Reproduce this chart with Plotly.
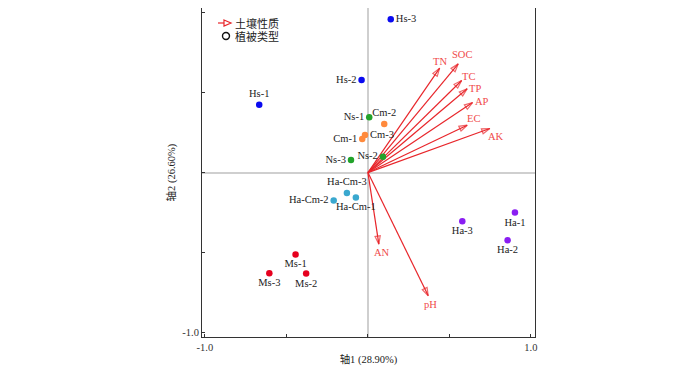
import plotly.graph_objects as go

# ---------------- data ----------------
site_names = ["Hs-1", "Hs-2", "Hs-3", "Ns-1", "Ns-2", "Ns-3", "Cm-1", "Cm-2", "Cm-3",
              "Ha-Cm-1", "Ha-Cm-2", "Ha-Cm-3", "Ha-1", "Ha-2", "Ha-3", "Ms-1", "Ms-2", "Ms-3"]
site_axis1 = [-0.667, -0.039, 0.140, 0.008, 0.092, -0.104, -0.035, 0.100, -0.018,
              -0.074, -0.210, -0.129, 0.902, 0.857, 0.579, -0.444, -0.379, -0.605]
site_axis2 = [0.424, 0.578, 0.957, 0.346, 0.099, 0.079, 0.209, 0.304, 0.234,
              -0.155, -0.174, -0.128, -0.250, -0.422, -0.304, -0.511, -0.631, -0.629]
site_groups = ["Hs", "Hs", "Hs", "Ns", "Ns", "Ns", "Cm", "Cm", "Cm",
               "Ha-Cm", "Ha-Cm", "Ha-Cm", "Ha", "Ha", "Ha", "Ms", "Ms", "Ms"]

soil_names = ["TN", "SOC", "TC", "TP", "AP", "EC", "AK", "AN", "pH"]
soil_axis1 = [0.440, 0.554, 0.575, 0.609, 0.642, 0.609, 0.748, 0.067, 0.370]
soil_axis2 = [0.652, 0.679, 0.575, 0.524, 0.437, 0.296, 0.275, -0.447, -0.770]

x_tick_vals = [-1.0, -0.5, 0.0, 0.5, 1.0]
x_tick_text = ["-1.0", "", "", "", "1.0"]
y_tick_vals = [-1.0, -0.5, 0.0, 0.5, 1.0]
y_tick_text = ["-1.0", "", "", "", "1.0"]

x_title = "轴1 (28.90%)"
y_title = "轴2 (26.60%)"
legend_labels = ["土壤性质", "植被类型"]

# ---------------- styles ----------------
group_colors = {"Hs": "#0a0af0", "Ns": "#22a32a", "Cm": "#ff8a3c",
                "Ha-Cm": "#3aa8cf", "Ha": "#8a1ef2", "Ms": "#e6001e"}
site_textpos = ["top center", "middle left", "middle right", "middle left", "middle left",
                "middle left", "middle left", "top center", "middle right",
                "bottom center", "middle left", "top center", "bottom center",
                "bottom center", "bottom center", "bottom center", "bottom center",
                "bottom center"]
soil_label_shift = [(0, 7), (4, 9), (7, 4), (8, 0), (9, 1), (6, 7), (6, -8), (3, -8), (2, -9)]

ARROW = "#e8262b"
ARROW_TEXT = "#f04a4a"
FONT = "Liberation Serif, Times New Roman, Noto Sans CJK SC, serif"

# the page body adds an 8px offset; size the figure so the plot frame lands where the
# reference has it inside the 700x370 window
OFF = 8
W, H = 700 - OFF, 370 - OFF
L, R, T, B = 202 - OFF, 165, 0, 33

fig = go.Figure()

# soil property arrows
for nm, ax1, ax2 in zip(soil_names, soil_axis1, soil_axis2):
    fig.add_trace(go.Scatter(
        x=[0, ax1], y=[0, ax2], mode="lines+markers",
        line=dict(color=ARROW, width=1.2),
        marker=dict(symbol="arrow-open", size=[0, 8.5], angleref="previous",
                    color=ARROW, line=dict(color=ARROW, width=1.2)),
        hoverinfo="skip", showlegend=False))

for (nm, ax1, ax2), (dx, dy) in zip(zip(soil_names, soil_axis1, soil_axis2), soil_label_shift):
    fig.add_annotation(x=ax1, y=ax2, text=nm, showarrow=False,
                       xshift=dx, yshift=dy, xanchor="center", yanchor="middle",
                       font=dict(family=FONT, size=10.5, color=ARROW_TEXT))

# sample points
fig.add_trace(go.Scatter(
    x=site_axis1, y=site_axis2, mode="markers+text", text=site_names,
    textposition=site_textpos,
    textfont=dict(family=FONT, size=10.5, color="#222222"),
    marker=dict(size=6.5, color=[group_colors[g] for g in site_groups]),
    hoverinfo="text", showlegend=False))

# ---------------- legend (drawn) ----------------
# positions given in window pixels of the reference
def px_x(p):
    return (p - OFF - L) / (W - L - R)

def px_y(p):
    return (H - B - (p - OFF)) / (H - T - B)

shapes = [
    dict(type="line", xref="paper", yref="paper", x0=px_x(218), x1=px_x(224),
         y0=px_y(23), y1=px_y(23), line=dict(color=ARROW, width=1.2)),
    dict(type="path", xref="paper", yref="paper",
         path="M {} {} L {} {} L {} {} Z".format(px_x(224), px_y(20), px_x(231), px_y(23),
                                                 px_x(224), px_y(26)),
         line=dict(color=ARROW, width=1.2), fillcolor="white"),
    dict(type="circle", xref="paper", yref="paper", x0=px_x(222.5), x1=px_x(229.5),
         y0=px_y(32.5), y1=px_y(39.5), line=dict(color="#111111", width=1.4)),
]
fig.add_annotation(xref="paper", yref="paper", x=px_x(233), y=px_y(23), text=legend_labels[0],
                   showarrow=False, xanchor="left", yanchor="middle",
                   font=dict(family=FONT, size=11, color="#222222"))
fig.add_annotation(xref="paper", yref="paper", x=px_x(233), y=px_y(36), text=legend_labels[1],
                   showarrow=False, xanchor="left", yanchor="middle",
                   font=dict(family=FONT, size=11, color="#222222"))

axis_common = dict(
    showgrid=False, zeroline=True, zerolinecolor="#cfcfcf", zerolinewidth=1.5,
    showline=True, mirror=True, linecolor="#333333", linewidth=1,
    ticks="inside", ticklen=3, tickcolor="#333333",
    tickfont=dict(family=FONT, size=10.5, color="#333333"),
)

fig.update_layout(
    width=W, height=H,
    margin=dict(l=L, r=R, t=T, b=B, autoexpand=False),
    paper_bgcolor="white", plot_bgcolor="white",
    shapes=shapes,
    xaxis=dict(range=[-1.018, 1.025], tickvals=x_tick_vals, ticktext=x_tick_text,
               title=dict(text=x_title, standoff=4,
                          font=dict(family=FONT, size=10.5, color="#222222")),
               **axis_common),
    yaxis=dict(range=[-1.027, 1.028], tickvals=y_tick_vals, ticktext=y_tick_text,
               title=dict(text=y_title, standoff=4,
                          font=dict(family=FONT, size=10.5, color="#222222")),
               **axis_common),
)

fig.write_html("out.html")
